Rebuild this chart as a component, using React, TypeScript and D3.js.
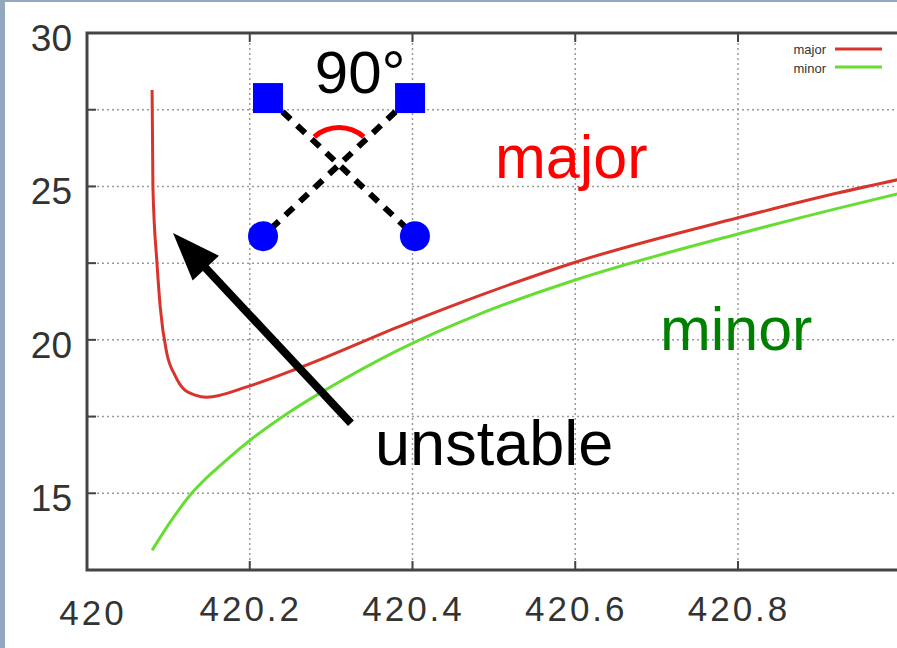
import React, { useRef, useEffect } from 'react';
import * as d3 from 'd3';

const majorX = [420.08, 420.081, 420.086, 420.09, 420.098, 420.108, 420.118, 420.133, 420.147, 420.2, 420.262, 420.385, 420.483, 420.6, 420.799, 420.925, 421];
const majorY = [28.14, 24.98, 22.5, 21.07, 19.57, 18.85, 18.42, 18.2, 18.13, 18.5, 19.1, 20.45, 21.45, 22.53, 23.97, 24.8, 25.24];
const minorX = [420.08, 420.102, 420.127, 420.172, 420.2, 420.249, 420.295, 420.385, 420.483, 420.6, 420.8, 420.925, 421];
const minorY = [13.14, 14.05, 14.95, 16.1, 16.72, 17.65, 18.4, 19.7, 20.85, 21.95, 23.45, 24.3, 24.78];

const xTicks = [420, 420.2, 420.4, 420.6, 420.8];
const xGrid = [420.2, 420.4, 420.6, 420.8];
const yTicks = [15, 20, 25, 30];
const yGrid = [15, 17.5, 20, 22.5, 25, 27.5];

const seriesNames = ['major', 'minor'];
const seriesColors = ['#d8342c', '#66dd33'];

// annotation anchors, in data units
const squares = [[420.2224, 27.88], [420.397, 27.88]];
const circles = [[420.2163, 23.38], [420.403, 23.38]];
const arcCenter = [420.3097, 25.7];
const arrowTail = [420.3244, 17.28];
const arrowTip = [420.1057, 23.48];

export default function App() {
  const svgRef = useRef(null);

  useEffect(() => {
    const svg = d3.select(svgRef.current);
    const width = 897;
    const height = 648;
    svg.selectAll('*').remove();

    const x = d3.scaleLinear().domain([420, 421]).range([87, 900.75]);
    const y = d3.scaleLinear().domain([12.5, 30]).range([570, 33]);
    const font = '"Liberation Sans", Arial, sans-serif';

    svg.append('rect').attr('width', width).attr('height', height).attr('fill', '#93a7be');
    svg.append('rect').attr('x', 5).attr('y', 2).attr('width', width).attr('height', height).attr('fill', '#fff');

    // grid
    const grid = svg.append('g').attr('stroke', '#9a9a9a').attr('stroke-width', 1.5).attr('stroke-dasharray', '2,3');
    grid.selectAll('line.h').data(yGrid).join('line')
      .attr('x1', x(420)).attr('x2', width)
      .attr('y1', d => y(d)).attr('y2', d => y(d));
    grid.selectAll('line.v').data(xGrid).join('line')
      .attr('class', 'v')
      .attr('x1', d => x(d)).attr('x2', d => x(d))
      .attr('y1', y(30)).attr('y2', y(12.5));

    // inward ticks
    const ticks = svg.append('g').attr('stroke', '#444').attr('stroke-width', 2);
    ticks.selectAll('line.yt').data(yGrid).join('line')
      .attr('x1', x(420)).attr('x2', x(420) + 9)
      .attr('y1', d => y(d)).attr('y2', d => y(d));
    ticks.selectAll('line.xb').data(xGrid).join('line')
      .attr('class', 'xb')
      .attr('x1', d => x(d)).attr('x2', d => x(d))
      .attr('y1', y(12.5)).attr('y2', y(12.5) - 9);
    ticks.selectAll('line.xt').data(xGrid).join('line')
      .attr('class', 'xt')
      .attr('x1', d => x(d)).attr('x2', d => x(d))
      .attr('y1', y(30)).attr('y2', y(30) + 9);

    // frame
    svg.append('path')
      .attr('d', `M${width},${y(30)}H${x(420)}V${y(12.5)}H${width}`)
      .attr('fill', 'none').attr('stroke', '#444').attr('stroke-width', 3);

    // tick labels
    svg.append('g').selectAll('text').data(yTicks).join('text')
      .attr('x', 72).attr('y', d => y(d) + 18)
      .attr('text-anchor', 'end')
      .attr('font-family', font).attr('font-size', 37).attr('fill', '#333')
      .text(d => d);
    svg.append('g').selectAll('text').data(xTicks).join('text')
      .attr('x', (d, i) => x(d) + (i === 0 ? 6 : 1))
      .attr('y', (d, i) => (i === 0 ? 625 : 621))
      .attr('text-anchor', 'middle')
      .attr('font-family', font).attr('font-size', 35).attr('letter-spacing', 3).attr('fill', '#333')
      .text(d => d3.format('~f')(d));

    // curves
    const line = d3.line().x(d => x(d[0])).y(d => y(d[1])).curve(d3.curveMonotoneX);
    const series = [
      d3.zip(majorX, majorY),
      d3.zip(minorX, minorY),
    ];
    svg.append('g').selectAll('path').data(series).join('path')
      .attr('d', d => line(d))
      .attr('fill', 'none')
      .attr('stroke', (d, i) => seriesColors[i])
      .attr('stroke-width', 3)
      .attr('stroke-linejoin', 'round');

    // legend
    const legend = svg.append('g');
    seriesNames.forEach((name, i) => {
      legend.append('text')
        .attr('x', 826).attr('y', 54 + i * 19)
        .attr('text-anchor', 'end')
        .attr('font-family', font).attr('font-size', 13).attr('fill', '#333')
        .text(name);
      legend.append('line')
        .attr('x1', 835).attr('x2', 882)
        .attr('y1', 49 + i * 18).attr('y2', 49 + i * 18)
        .attr('stroke', seriesColors[i]).attr('stroke-width', 3);
    });

    // 90 degree sketch
    const ann = svg.append('g');
    [[squares[0], circles[1]], [squares[1], circles[0]]].forEach(([a, b]) => {
      ann.append('line')
        .attr('x1', x(a[0])).attr('y1', y(a[1]))
        .attr('x2', x(b[0])).attr('y2', y(b[1]))
        .attr('stroke', '#000').attr('stroke-width', 6).attr('stroke-dasharray', '11,9');
    });
    ann.append('path')
      .attr('transform', `translate(${x(arcCenter[0])},${y(arcCenter[1])})`)
      .attr('d', d3.arc()({ innerRadius: 35, outerRadius: 40, startAngle: -0.72, endAngle: 0.72 }))
      .attr('fill', '#ff0000');
    ann.selectAll('rect').data(squares).join('rect')
      .attr('x', d => x(d[0]) - 15).attr('y', d => y(d[1]) - 15)
      .attr('width', 30).attr('height', 30).attr('fill', '#0000ff');
    ann.selectAll('circle').data(circles).join('circle')
      .attr('cx', d => x(d[0])).attr('cy', d => y(d[1])).attr('r', 15)
      .attr('fill', '#0000ff');
    ann.append('text')
      .attr('x', x(420.28)).attr('y', y(28.05))
      .attr('font-family', font).attr('font-size', 60).attr('fill', '#000')
      .text('90°');

    // arrow
    const tx = x(arrowTail[0]), ty = y(arrowTail[1]);
    const hx = x(arrowTip[0]), hy = y(arrowTip[1]);
    const len = Math.hypot(hx - tx, hy - ty);
    const ux = (hx - tx) / len, uy = (hy - ty) / len;
    const headLen = 48, headHalf = 18;
    const bx = hx - ux * headLen, by = hy - uy * headLen;
    svg.append('line')
      .attr('x1', tx).attr('y1', ty).attr('x2', bx + ux * 4).attr('y2', by + uy * 4)
      .attr('stroke', '#000').attr('stroke-width', 8);
    svg.append('path')
      .attr('d', `M${hx},${hy}L${bx - uy * headHalf},${by + ux * headHalf}L${bx + uy * headHalf},${by - ux * headHalf}Z`)
      .attr('fill', '#000');

    // labels
    svg.append('text')
      .attr('x', x(420.5014)).attr('y', y(25.27))
      .attr('font-family', font).attr('font-size', 61).attr('fill', '#ff0000')
      .text('major');
    svg.append('text')
      .attr('x', x(420.704)).attr('y', y(19.66))
      .attr('font-family', font).attr('font-size', 61).attr('fill', '#008000')
      .text('minor');
    svg.append('text')
      .attr('x', x(420.354)).attr('y', y(15.91))
      .attr('font-family', font).attr('font-size', 63).attr('fill', '#000')
      .text('unstable');
  }, []);

  return (
    <svg
      ref={svgRef}
      width={897}
      height={648}
      style={{ position: 'absolute', left: 0, top: 0, display: 'block' }}
    />
  );
}
